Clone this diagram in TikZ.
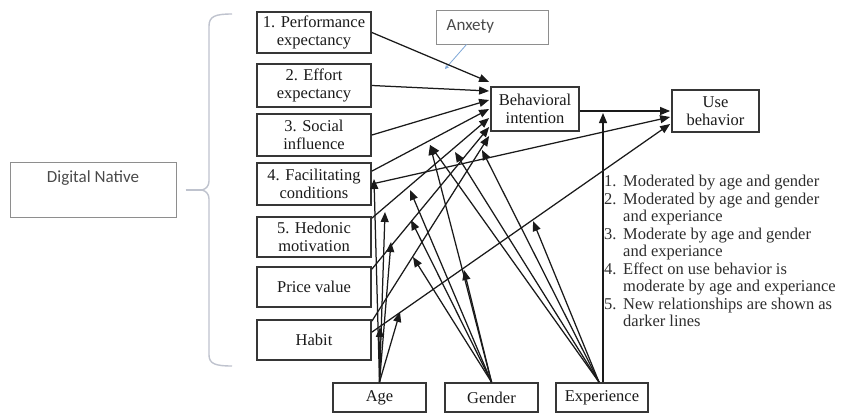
\documentclass[tikz,border=0pt]{standalone}
\usepackage{fontspec}
\setmainfont{Liberation Serif}
\newfontfamily\tnr{Liberation Serif}
\newfontfamily\calib{Carlito}
\usetikzlibrary{arrows.meta,calc}
\definecolor{ink}{HTML}{1A1A1A}
\definecolor{boxline}{HTML}{363636}
\definecolor{lightbox}{HTML}{8E8E8E}
\definecolor{bracecol}{HTML}{BFC3CE}
\definecolor{anxblue}{HTML}{7FA8D8}
\definecolor{legtext}{HTML}{2E2E2E}
\definecolor{softink}{HTML}{4A4A4A}
\tikzset{
  box/.style={draw=boxline, line width=1.8pt, align=center, inner sep=0pt,
    font=\tnr\fontsize{16.5}{18}\selectfont, text=ink},
  leftbox/.style={box, minimum width=114pt},
  botbox/.style={box, minimum height=29pt},
  softbox/.style={draw=lightbox, line width=1pt, inner sep=0pt},
  softtext/.style={font=\calib\fontsize{17}{19}\selectfont, text=softink, inner sep=0pt},
  conn/.style={draw=ink, line width=1.25pt, -{Triangle[length=10pt,width=8pt]}},
  bracestyle/.style={draw=bracecol, line width=1.4pt},
  anxline/.style={draw=anxblue, line width=0.8pt, -{Stealth[length=4pt,width=4pt]}}
}
\begin{document}
\begin{tikzpicture}[x=1pt,y=-1pt]
\useasboundingbox (0,0) rectangle (842,415);
\fill[white] (0,0) rectangle (842,415);

% Digital Native and brace
\node[softbox, minimum width=166pt, minimum height=55pt] (dn) at (93,189.5) {};
\node[softtext] (dnt) at ($(dn.north)+(0,17)$) {Digital Native};
\coordinate (bmid) at (202,190);
\draw[bracestyle] (232,14) .. controls (216,14) and (209,16) .. (209,26) -- (209,181)
  .. controls (209,186) and (206,189) .. (bmid) .. controls (206,191) and (209,194) .. (209,199)
  -- (209,355) .. controls (209,364) and (216,366) .. (232,366);
\draw[bracestyle] ($(dn.east)+(9,0.5)$) -- (bmid);

% Anxety
\node[softbox, minimum width=112pt, minimum height=34pt] (anx) at (492,27) {};
\node[softtext, anchor=west] (anxt) at ($(anx.west)+(11,-1)$) {Anxety};
\coordinate (anxtip) at (445,69);
\draw[anxline] ($(anx.south west)+(31,0)$) -- (anxtip);

% Left column
\node[leftbox, minimum height=41pt] (pe) at (314,32.5) {1. Performance\\expectancy};
\node[leftbox, minimum height=43pt] (ee) at (314,85.5) {2. Effort\\expectancy};
\node[leftbox, minimum height=42pt] (si) at (314,135) {3. Social\\influence};
\node[leftbox, minimum height=42pt] (fc) at (314,184) {4. Facilitating\\conditions};
\node[leftbox, minimum height=40pt] (hm) at (314,237) {5. Hedonic\\motivation};
\node[leftbox, minimum height=40pt] (pv) at (314,287) {Price value};
\node[leftbox, minimum height=40pt] (hb) at (314,340) {Habit};

% Outcomes
\node[box, minimum width=88pt, minimum height=44pt] (bi) at (535,109) {Behavioral\\intention};
\node[box, minimum width=87pt, minimum height=42pt] (ub) at (715.5,111) {Use\\behavior};

% Moderators
\node[botbox, minimum width=93pt] (age) at (379.5,397.5) {Age};
\node[botbox, minimum width=93pt] (gen) at (491.5,397.5) {Gender};
\node[botbox, minimum width=92pt] (exp) at (602,397.5) {Experience};

% Legend
\node[anchor=north west, align=left, inner sep=0pt, text=legtext,
  font=\tnr\fontsize{16.5}{17.5}\selectfont] (leg) at (604,175)
{\makebox[19pt][l]{1.}Moderated by age and gender\\
 \makebox[19pt][l]{2.}Moderated by age and gender\\
 \hspace*{19pt}and experiance\\
 \makebox[19pt][l]{3.}Moderate by age and gender\\
 \hspace*{19pt}and experiance\\
 \makebox[19pt][l]{4.}Effect on use behavior is\\
 \hspace*{19pt}moderate by age and experiance\\
 \makebox[19pt][l]{5.}New relationships are shown as\\
 \hspace*{19pt}darker lines};

% Paths into behavioral intention
\draw[conn] (pe.east) -- ($(bi.west)+(-1,-27)$);
\draw[conn] (ee.east) -- ($(bi.west)+(-1,-18)$);
\draw[conn] (si.east) -- ($(bi.west)+(-1,-9)$);
\draw[conn] ($(fc.north east)+(0,9)$) -- ($(bi.west)+(-1,0)$);
\draw[conn] ($(hm.north east)+(0,2)$) -- ($(bi.west)+(-1,9)$);
\draw[conn] ($(pv.north east)+(0,3)$) -- ($(bi.west)+(-1,18)$);
\draw[conn] ($(hb.north east)+(0,2)$) -- ($(bi.west)+(-1,27)$);

% Paths into use behavior
\draw[conn] ($(bi.east)+(0,2)$) -- ($(ub.west)+(-1,0)$);
\draw[conn] (fc.east) -- ($(ub.west)+(-1,6)$);
\draw[conn] ($(hb.north east)+(0,13)$) -- ($(ub.west)+(-1,13)$);

% Moderator tips
\coordinate (ta) at (374,179);
\coordinate (tb) at (385,212);
\coordinate (tc) at (391,242);
\coordinate (td) at (380,327);
\coordinate (te) at (400,312);
\coordinate (tf) at (410,190);
\coordinate (tg) at (411,220);
\coordinate (th) at (413,257);
\coordinate (ti) at (464,270);
\coordinate (tk1) at (430,145);
\coordinate (tk2) at (455,152);
\coordinate (tk3) at (482,150);
\coordinate (tj) at (533,221);
\coordinate (tl) at (603,113);

% Age
\foreach \t in {ta,tb,tc,td,te} \draw[conn] (age.north) -- (\t);
% Gender
\foreach \t in {tf,tg,th,ti,tk1} \draw[conn] (gen.north) -- (\t);
% Experience
\foreach \t in {tk1,tk2,tk3,tj} \draw[conn] ($(exp.north)+(-3,0)$) -- (\t);
\draw[conn] ($(exp.north)+(1,0)$) -- (tl);
\end{tikzpicture}
\end{document}
